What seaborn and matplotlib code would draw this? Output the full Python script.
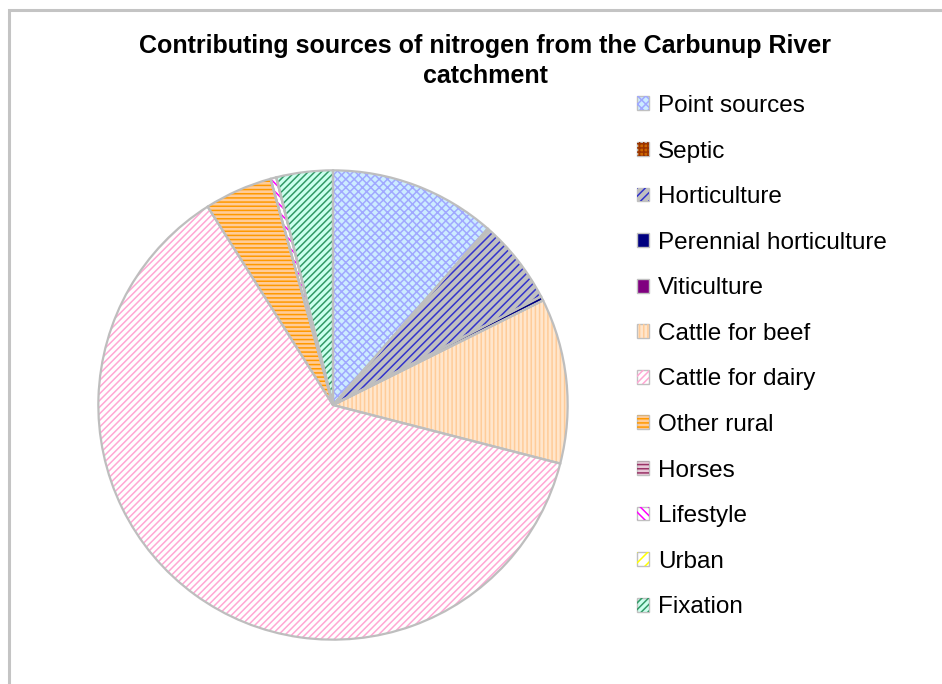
import matplotlib
matplotlib.use('Agg')
import matplotlib.pyplot as plt
import seaborn as sns
from matplotlib.patches import Patch, Rectangle
from matplotlib.legend_handler import HandlerTuple

# ── Data (share of nitrogen load, %) ───────────────────────
sources = ['Point sources', 'Septic', 'Horticulture', 'Perennial horticulture',
           'Viticulture', 'Cattle for beef', 'Cattle for dairy', 'Other rural',
           'Horses', 'Lifestyle', 'Urban', 'Fixation']
share = [11.5, 0.0, 5.9, 0.3, 0.0, 11.4, 62.2, 4.7, 0.0, 0.4, 0.0, 3.9]

# ── Excel-like pattern fills: background, foreground, hatch ─
bg_colors = ['#CCECFF', '#CC6600', '#C0C0C0', '#000080', '#800080', '#FFE6CC',
             '#FFFFFF', '#FFCC99', '#E8C8D8', '#FFFFFF', '#FFFFFF', '#CCFFEE']
fg_colors = ['#A0A8FF', '#993300', '#3333CC', '#000080', '#800080', '#FFCC99',
             '#FFA8D4', '#FF9900', '#993366', '#FF00FF', '#FFFF00', '#339966']
hatches = ['xxxx', '++++', '////', '', '', '||||',
           '/////', '----', '----', '\\\\\\\\', '///', '/////']
edge = '#BEBEBE'

sns.set_theme(style='white')
plt.rcParams['font.family'] = ['Liberation Sans', 'DejaVu Sans']
plt.rcParams['text.color'] = 'black'
plt.rcParams['hatch.linewidth'] = 1.1

fig = plt.figure(figsize=(9.42, 6.84), dpi=100)
W, H = 942, 684

# chart area border
fig.patches.append(Rectangle((9 / W, -0.01), 1.0, 1 - 10 / H + 0.01,
                             transform=fig.transFigure, fill=False,
                             edgecolor='#C4C4C4', linewidth=2.2))

ax = fig.add_axes([96 / W, 42 / H, 474 / W, 474 / H])

# base layer: background colours
ax.pie(share, colors=bg_colors, startangle=90, counterclock=False,
       wedgeprops=dict(linewidth=0))
# pattern layer
wedges, _ = ax.pie(share, colors=['none'] * len(share), startangle=90,
                   counterclock=False, wedgeprops=dict(linewidth=0))
for w, fg, h in zip(wedges, fg_colors, hatches):
    w.set_edgecolor(fg)
    w.set_hatch(h)
    w.set_linewidth(0)
# outline layer
ax.pie(share, colors=['none'] * len(share), startangle=90, counterclock=False,
       wedgeprops=dict(linewidth=1.6, edgecolor=edge))
ax.set_xlim(-1.01, 1.01)
ax.set_ylim(-1.01, 1.01)
ax.set_aspect('equal')

fig.text(485 / W, 1 - 61 / H,
         'Contributing sources of nitrogen from the Carbunup River\ncatchment',
         ha='center', va='center', fontsize=18, fontweight='bold',
         linespacing=1.32)

# legend with layered proxy patches
handles = []
for bg, fg, h in zip(bg_colors, fg_colors, hatches):
    base = Patch(facecolor=bg, edgecolor='#C0C0C0', linewidth=1.0)
    pat = Patch(facecolor='none', edgecolor=fg, hatch=h, linewidth=0)
    handles.append((base, pat))

fig.legend(handles, sources, handler_map={tuple: HandlerTuple(ndivide=1)},
           loc='upper left', bbox_to_anchor=(637 / W, 1 - 95 / H),
           frameon=False, fontsize=17.5, handlelength=0.5, handleheight=0.5,
           handletextpad=0.37, labelspacing=0.97, borderaxespad=0,
           borderpad=0)

fig.savefig('out.png', dpi=100)
